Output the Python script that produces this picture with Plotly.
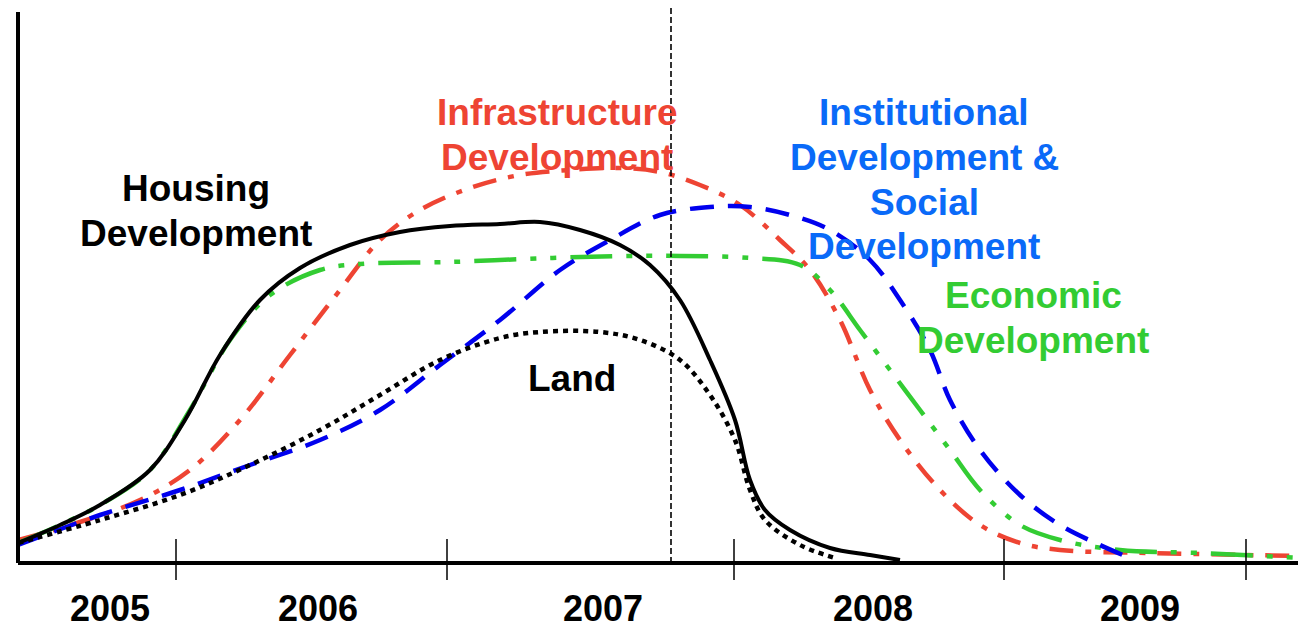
import plotly.graph_objects as go

# Timeline units: 0..1288 along the x axis, height units 0..555
housing_x = [0, 42, 82, 132, 167, 202, 242, 282, 332, 382, 432, 482, 522, 562, 602, 632, 662, 692, 717, 732, 747, 772, 812, 852, 882]
housing_y = [20, 38, 58, 93, 143, 208, 263, 295, 318, 331, 337, 339, 341, 333, 318, 298, 263, 203, 143, 83, 53, 33, 15, 8, 3]

land_x = [0, 82, 162, 232, 302, 362, 422, 482, 522, 582, 622, 662, 692, 717, 732, 747, 782, 817]
land_y = [20, 43, 68, 98, 133, 168, 203, 225, 231, 231, 223, 203, 168, 123, 73, 43, 18, 5]

infra_x = [0, 62, 122, 172, 222, 272, 322, 362, 402, 452, 502, 552, 602, 642, 682, 722, 762, 792, 822, 852, 882, 922, 962, 1002, 1042, 1132, 1285]
infra_y = [23, 41, 63, 93, 143, 208, 273, 323, 353, 375, 388, 393, 395, 391, 378, 358, 323, 293, 243, 173, 123, 73, 38, 20, 13, 10, 7]

inst_x = [0, 82, 162, 232, 302, 362, 422, 482, 542, 592, 642, 692, 732, 772, 812, 852, 882, 912, 932, 962, 1002, 1042, 1082, 1112]
inst_y = [18, 48, 73, 98, 123, 153, 198, 243, 293, 323, 348, 356, 356, 348, 333, 303, 263, 213, 163, 113, 68, 38, 18, 5]

econ_x = [0, 42, 82, 132, 172, 212, 252, 302, 342, 432, 532, 612, 662, 732, 782, 812, 842, 872, 902, 932, 962, 1002, 1042, 1102, 1182, 1282]
econ_y = [20, 38, 58, 93, 153, 223, 268, 293, 299, 301, 305, 307, 307, 305, 298, 273, 233, 193, 153, 113, 73, 38, 23, 13, 10, 5]

year_labels = ["2005", "2006", "2007", "2008", "2009"]
year_label_pos = [92, 300, 585, 855, 1122]
tick_pos = [158, 429, 716, 986, 1228]
marker_line_x = 653

RED = "#EE4433"
GREEN = "#33CC33"
BLUE = "#0000EE"
BLUE_TXT = "#0A6AF8"
FONT = "Liberation Sans, Arial, sans-serif"
PLOT_H = 555.0

fig = go.Figure()
lw = 4.5
fig.add_trace(go.Scatter(x=infra_x, y=infra_y, mode="lines", line=dict(color=RED, width=lw, dash="24px,12px,6px,12px", shape="spline")))
fig.add_trace(go.Scatter(x=econ_x, y=econ_y, mode="lines", line=dict(color=GREEN, width=lw, dash="42px,14px,6px,14px,6px,14px", shape="spline")))
fig.add_trace(go.Scatter(x=inst_x, y=inst_y, mode="lines", line=dict(color=BLUE, width=lw, dash="24px,14px", shape="spline")))
fig.add_trace(go.Scatter(x=land_x, y=land_y, mode="lines", line=dict(color="black", width=lw, dash="5px,5px", shape="spline")))
fig.add_trace(go.Scatter(x=housing_x, y=housing_y, mode="lines", line=dict(color="black", width=4, shape="spline")))

# year tick marks
for t in tick_pos:
    fig.add_shape(type="line", xref="x", yref="paper", x0=t, x1=t, y0=24 / PLOT_H, y1=-17 / PLOT_H,
                  line=dict(color="black", width=1.5))
# vertical dashed "now" line
fig.add_shape(type="line", xref="x", yref="paper", x0=marker_line_x, x1=marker_line_x, y0=0, y1=1,
              line=dict(color="black", width=1.6, dash="6px,3px"))
# axes
fig.add_shape(type="line", xref="paper", yref="paper", x0=0, x1=1, y0=0, y1=0, line=dict(color="black", width=4))
fig.add_shape(type="line", xref="paper", yref="paper", x0=0, x1=0, y0=0, y1=0.993, line=dict(color="black", width=4))

for lab, xp in zip(year_labels, year_label_pos):
    fig.add_annotation(x=xp, y=-68 / PLOT_H, xref="x", yref="paper", text="<b>%s</b>" % lab, showarrow=False,
                       font=dict(family=FONT, size=36, color="black"))

def label(lines, cx, ys, color):
    for txt, yy in zip(lines, ys):
        fig.add_annotation(x=cx, y=yy, xref="x", yref="y", text="<b>%s</b>" % txt, showarrow=False,
                           font=dict(family=FONT, size=37, color=color))

label(["Housing", "Development"], 178, [375, 330], "black")
label(["Infrastructure", "Development"], 539, [451, 406], RED)
label(["Institutional", "Development &", "Social", "Development"], 906, [451, 406, 361, 317], BLUE_TXT)
label(["Economic", "Development"], 1015, [268, 223], GREEN)
label(["Land"], 554, [185], "black")

# page body has an 8px margin: compensate so the plot area lands at x 18..1306, y 8..563
fig.update_layout(
    width=1306, height=628,
    margin=dict(l=10, r=8, t=0, b=73),
    paper_bgcolor="white", plot_bgcolor="white",
    showlegend=False,
    xaxis=dict(range=[0, 1288], showgrid=False, zeroline=False, showticklabels=False, ticks=""),
    yaxis=dict(range=[0, 555], showgrid=False, zeroline=False, showticklabels=False, ticks=""),
)
fig.write_html("out.html")
